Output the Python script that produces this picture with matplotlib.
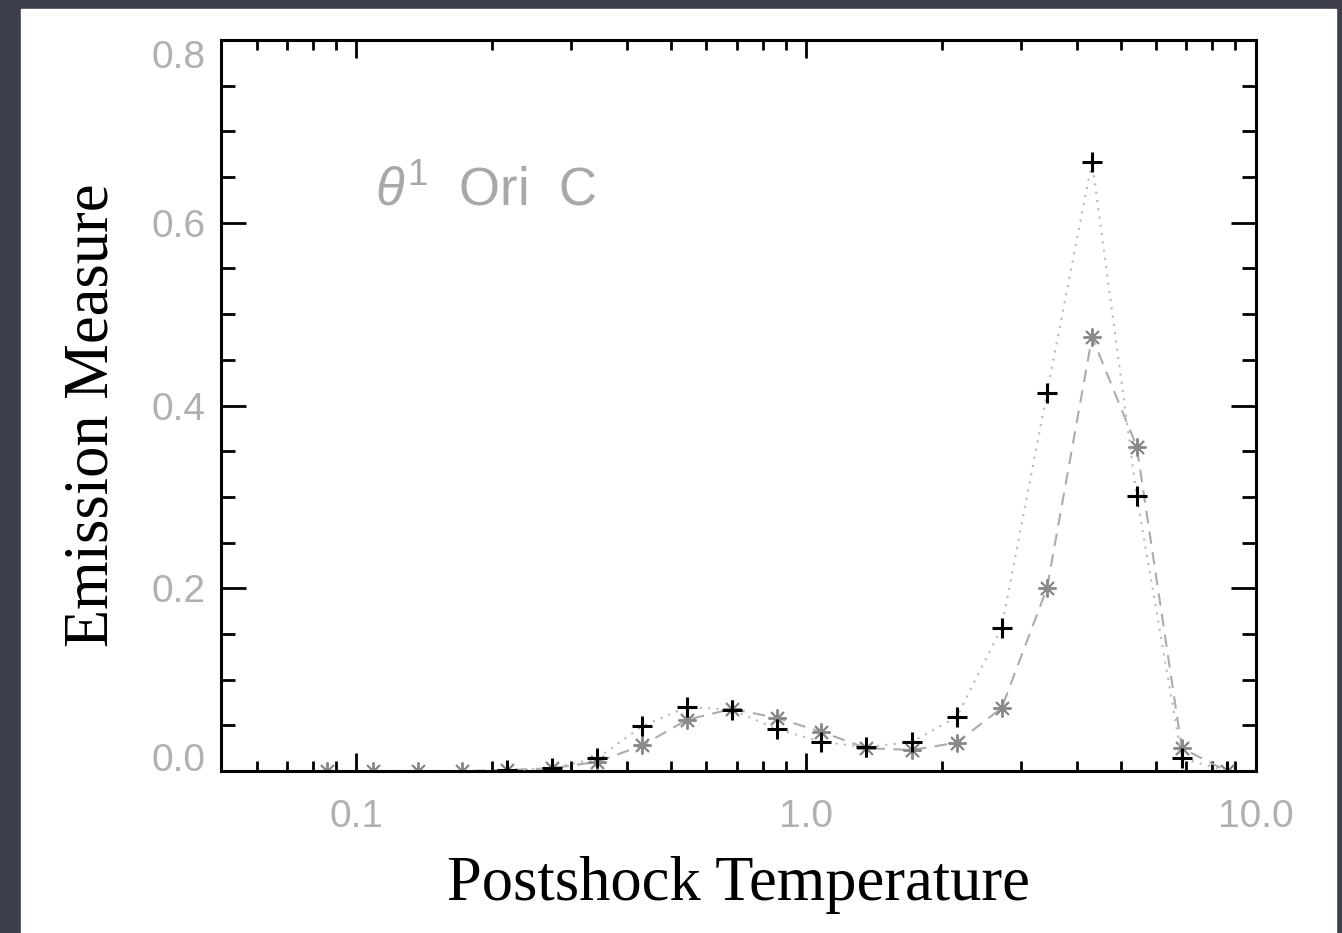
import matplotlib
matplotlib.use("Agg")
import matplotlib.pyplot as plt
from matplotlib.ticker import LogLocator, MultipleLocator, NullFormatter
import numpy as np

# postshock temperature (keV) and emission measure
temp_plus = [0.216, 0.272, 0.343, 0.432, 0.543, 0.684, 0.861, 1.08, 1.36,
             1.72, 2.16, 2.72, 3.43, 4.32, 5.43, 6.84, 8.61]
em_plus = [0.001, 0.003, 0.014, 0.049, 0.070, 0.067, 0.046, 0.032, 0.026,
           0.032, 0.059, 0.157, 0.414, 0.667, 0.301, 0.014, 0.0]

temp_star = [0.0862, 0.109, 0.137, 0.172, 0.216, 0.272, 0.343, 0.432, 0.543,
             0.684, 0.861, 1.08, 1.36, 1.72, 2.16, 2.72, 3.43, 4.32, 5.43,
             6.84, 8.61]
em_star = [0.0, 0.0, 0.0, 0.0, 0.001, 0.003, 0.010, 0.028, 0.056,
           0.068, 0.058, 0.043, 0.025, 0.023, 0.031, 0.069, 0.200, 0.475, 0.355,
           0.025, 0.0]

xtick_vals = [0.1, 1.0, 10.0]
xtick_labels = ["0.1", "1.0", "10.0"]
ytick_vals = [0.0, 0.2, 0.4, 0.6, 0.8]
ytick_labels = ["0.0", "0.2", "0.4", "0.6", "0.8"]

plt.rcParams["mathtext.fontset"] = "custom"
plt.rcParams["mathtext.it"] = "Liberation Sans:italic"
plt.rcParams["mathtext.rm"] = "Liberation Sans"

fig = plt.figure(figsize=(13.42, 9.33), dpi=100, facecolor="#3c3e4b")
# white page inside the dark frame
fig.add_artist(plt.Rectangle((21 / 1342, 0), 1315 / 1342, 1 - 9 / 933,
                             transform=fig.transFigure, color="white", zorder=-1))

ax = fig.add_axes([221 / 1342, 1 - 771 / 933, 1035 / 1342, 731 / 933])
ax.set_facecolor("white")

ax.plot(temp_plus, em_plus, linestyle=(0, (1, 3)), color="#b8b8b8", lw=1.5,
        marker="+", ms=14, mew=2.2, mec="black", zorder=3)
ax.plot(temp_star, em_star, linestyle=(0, (6, 4)), color="#acacac", lw=1.5,
        marker=(8, 2, 0), ms=13, mew=1.4, mec="#8a8a8a", zorder=2)

ax.set_xscale("log")
ax.set_xlim(0.05, 10.0)
ax.set_ylim(0.0, 0.8)

ax.set_xticks(xtick_vals, labels=xtick_labels)
ax.xaxis.set_minor_locator(LogLocator(base=10, subs=np.arange(2, 10)))
ax.xaxis.set_minor_formatter(NullFormatter())
ax.set_yticks(ytick_vals, labels=ytick_labels)
ax.yaxis.set_minor_locator(MultipleLocator(0.05))

for s in ax.spines.values():
    s.set_linewidth(2.2)

ax.tick_params(which="both", direction="in", top=True, right=True,
               width=2.0, color="black", labelcolor="#b0b0b0",
               labelsize=28)
ax.tick_params(axis="x", which="major", length=13, pad=20)
ax.tick_params(axis="x", which="minor", length=7.5)
ax.tick_params(axis="y", which="major", length=18, pad=11)
ax.tick_params(axis="y", which="minor", length=10)
for lab in ax.get_xticklabels() + ax.get_yticklabels():
    lab.set_fontfamily("Liberation Sans")

ylabs = ax.get_yticklabels()
ylabs[0].set_verticalalignment("baseline")
ylabs[-1].set_verticalalignment("top")

ax.set_xlabel("Postshock Temperature", fontsize=45, family="Liberation Serif",
              va="center")
ax.xaxis.set_label_coords(0.5, -0.156)
ax.set_ylabel("Emission Measure", fontsize=45, family="Liberation Serif",
              va="center")
ax.yaxis.set_label_coords(-0.1237, 0.486)

ax.text(0.149, 0.774, r"$\theta^1$  Ori  C", transform=ax.transAxes,
        fontsize=38, family="Liberation Sans", color="#a8a8a8",
        ha="left", va="baseline")

fig.savefig("out.png", dpi=100, facecolor=fig.get_facecolor())
